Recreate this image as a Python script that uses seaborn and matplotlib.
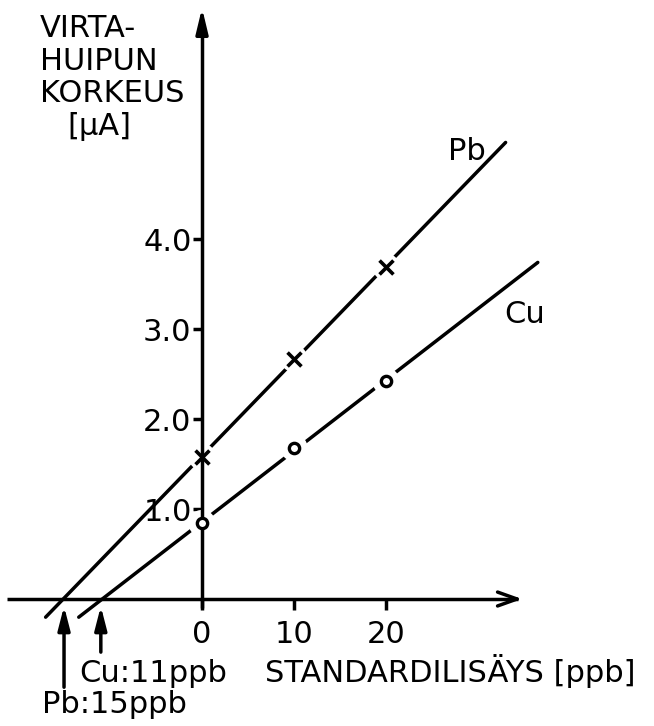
import numpy as np
import pandas as pd
import matplotlib
matplotlib.use("Agg")
import matplotlib.pyplot as plt
import seaborn as sns

# Standard additions (ppb) and measured peak currents (µA)
additions = [0, 10, 20]
pb_current = [1.58, 2.67, 3.69]
cu_current = [0.84, 1.68, 2.42]

# Concentrations found by extrapolation (ppb)
pb_found = 15
cu_found = 11

y_ticks = [1.0, 2.0, 3.0, 4.0]
x_ticks = [0, 10, 20]

sns.set_theme(style="white")
plt.rcParams["font.family"] = ["DejaVu Sans"]
plt.rcParams["text.color"] = "black"
FS = 22

fig = plt.figure(figsize=(6.54, 7.26), dpi=100)
ax = fig.add_axes([0, 0, 1, 1])
ax.set_xlim(-21.96, 49.13)
ax.set_ylim(-1.411, 6.656)

LW = 2.5
series = {
    "Pb": dict(y=pb_current, marker="x", span=(-17.0, 33.0)),
    "Cu": dict(y=cu_current, marker="o", span=(-13.4, 36.5)),
}

for name, s in series.items():
    slope, icpt = np.polyfit(additions, s["y"], 1)
    xs = np.array(s["span"])
    line_df = pd.DataFrame({"x": xs, "y": slope * xs + icpt})
    sns.lineplot(data=line_df, x="x", y="y", ax=ax, color="black", lw=LW,
                 estimator=None, sort=False, zorder=1, legend=False)
    pts = pd.DataFrame({"x": additions, "y": s["y"]})
    # white halo leaves a small break in the line around each point
    sns.scatterplot(data=pts, x="x", y="y", ax=ax, s=380, color="white",
                    edgecolor="none", zorder=2, legend=False)
    if s["marker"] == "x":
        sns.scatterplot(data=pts, x="x", y="y", ax=ax, marker="x", s=100,
                        color="black", linewidth=2.6, zorder=4, legend=False)
    else:
        sns.scatterplot(data=pts, x="x", y="y", ax=ax, marker="o", s=55,
                        facecolor="white", edgecolor="black", linewidth=2.4,
                        zorder=4, legend=False)

# Axes through the origin with arrowheads
for side in ["top", "right"]:
    ax.spines[side].set_visible(False)
ax.spines["left"].set_position(("data", 0))
ax.spines["bottom"].set_position(("data", 0))
ax.spines["left"].set_bounds(-0.1, 6.45)
ax.spines["bottom"].set_bounds(-21.2, 34.3)
for side in ["left", "bottom"]:
    ax.spines[side].set_linewidth(LW)
    ax.spines[side].set_color("black")
    ax.spines[side].set_zorder(3)
    ax.spines[side].set_capstyle("butt")

ax.annotate("", xy=(0, 6.567), xytext=(0, 6.3),
            arrowprops=dict(arrowstyle="-|>,head_length=0.75,head_width=0.18",
                            mutation_scale=20, lw=LW, color="black",
                            shrinkA=0, shrinkB=0))
ax.annotate("", xy=(34.8, 0), xytext=(33.5, 0),
            arrowprops=dict(arrowstyle="->,head_length=0.7,head_width=0.25",
                            mutation_scale=20, lw=LW, color="black",
                            shrinkA=0, shrinkB=0))

ax.set_xticks(x_ticks)
ax.set_xticklabels([str(v) for v in x_ticks])
ax.set_yticks(y_ticks)
ax.set_yticklabels([f"{v:.1f}" for v in y_ticks])
ax.tick_params(axis="x", direction="out", length=8, width=LW, pad=7,
               labelsize=FS, colors="black", bottom=True)
ax.tick_params(axis="y", direction="out", length=6.5, width=LW, pad=1,
               labelsize=FS, colors="black", left=True)
ax.set_xlabel("")
ax.set_ylabel("")
ax.grid(False)

# Axis titles
ylab_lines = [("VIRTA-", -17.6, 6.244), ("HUIPUN", -17.6, 5.878),
              ("KORKEUS", -17.6, 5.522), ("[μA]", -14.6, 5.156)]
for txt, tx, ty in ylab_lines:
    ax.text(tx, ty, txt, fontsize=FS, ha="left", va="baseline", color="black")

ax.text(27.0, -0.922, "STANDARDILISÄYS [ppb]", fontsize=FS, ha="center",
        va="baseline", color="black")

# Series labels
ax.text(26.74, 4.878, "Pb", fontsize=FS, ha="left", va="baseline", color="black")
ax.text(32.9, 3.07, "Cu", fontsize=FS, ha="left", va="baseline", color="black")

# Extrapolated intercept markers
for val, tail_y in [(pb_found, -0.98), (cu_found, -0.59)]:
    ax.annotate("", xy=(-val, -0.08), xytext=(-val, tail_y),
                arrowprops=dict(arrowstyle="-|>,head_length=0.7,head_width=0.18",
                                mutation_scale=20, lw=LW, color="black",
                                shrinkA=0, shrinkB=0))
ax.text(-13.37, -0.922, f"Cu:{cu_found}ppb", fontsize=FS, ha="left",
        va="baseline", color="black")
ax.text(-17.39, -1.267, f"Pb:{pb_found}ppb", fontsize=FS, ha="left",
        va="baseline", color="black")

fig.savefig("out.png", dpi=100, facecolor="white")
